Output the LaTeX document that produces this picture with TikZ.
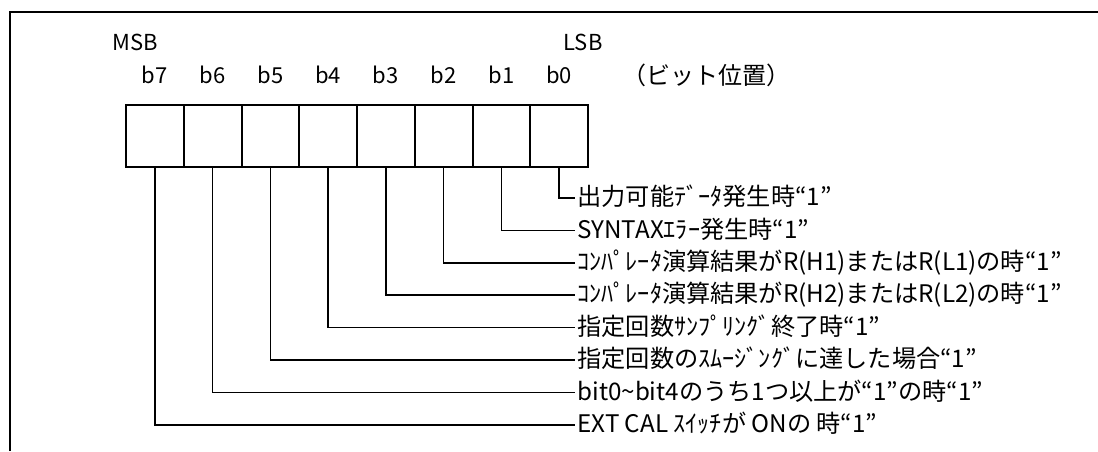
\documentclass[tikz,border=0pt]{standalone}
\usepackage{fontspec}
\newfontfamily\jpfont{Noto Sans CJK JP}
\usetikzlibrary{calc}

\begin{document}
\begin{tikzpicture}[x=0.5pt, y=-0.5pt, font=\jpfont,
  cell/.style={draw, line width=1pt, minimum width=28.875pt,
    minimum height=31pt, inner sep=0pt},
  lead/.style={line width=0.8pt},
  bitlbl/.style={font=\jpfont\fontsize{11}{13}\selectfont, inner sep=0pt},
  desc/.style={anchor=west, inner sep=1pt,
    font=\jpfont\fontsize{12.1}{14}\selectfont,
    text height=0.88em, text depth=0.12em}]
  \useasboundingbox (0,0) rectangle (1098,451);

  % frame, cut off at right and bottom
  \draw[line width=1.2pt] (10,451) -- (10,12) -- (1098,12);

  \node[bitlbl] (msb) at (135,42) {MSB};
  \node[bitlbl] (lsb) at (583,42) {LSB};

  % the eight bit cells, b7 on the left
  \foreach \i in {0,...,7} {
    \node[cell] (c\i) at ({126+57.75*(7-\i)+28.875},136) {};
    \node[bitlbl] (b\i) at ({126+57.75*(7-\i)+28.875},75) {b\i};
  }
  \node[bitlbl, anchor=west, font=\jpfont\fontsize{12}{14}\selectfont]
    (pos) at (622,75) {（ビット位置）};

  % meaning of each bit
  \foreach \i/\txt in {
      0/{出力可能ﾃﾞｰﾀ発生時“1”},
      1/{SYNTAXｴﾗｰ発生時“1”},
      2/{ｺﾝﾊﾟﾚｰﾀ演算結果がR(H1)またはR(L1)の時“1”},
      3/{ｺﾝﾊﾟﾚｰﾀ演算結果がR(H2)またはR(L2)の時“1”},
      4/{指定回数ｻﾝﾌﾟﾘﾝｸﾞ終了時“1”},
      5/{指定回数のｽﾑｰｼﾞﾝｸﾞに達した場合“1”},
      6/{bit0\textasciitilde bit4のうち1つ以上が“1”の時“1”},
      7/{EXT CAL ｽｲｯﾁが ONの 時“1”}} {
    \node[desc] (l\i) at (575,{198+32.4*\i}) {\txt};
    \draw[lead] (c\i.south) |- (l\i.west);
  }
\end{tikzpicture}
\end{document}
